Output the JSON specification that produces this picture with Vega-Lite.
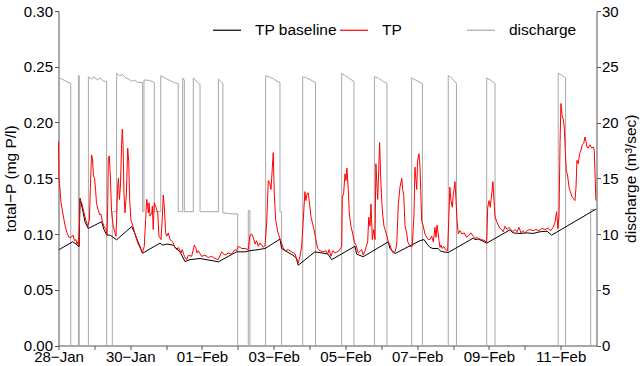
{
  "$schema": "https://vega.github.io/schema/vega-lite/v6.json",
  "width": 538,
  "height": 334.5,
  "autosize": "none",
  "padding": {"left": 58.5, "top": 11, "right": 43.5, "bottom": 20.5},
  "config": {
    "view": {"stroke": null},
    "font": "Liberation Sans",
    "axis": {"grid": false, "domainColor": "#555555", "tickColor": "#555555", "labelColor": "black", "titleColor": "black", "labelFontSize": 15, "titleFontSize": 15.5, "titleFontWeight": "normal", "tickSize": 4, "labelPadding": 2}
  },
  "datasets": {
    "tp": [
      {"h":0,"v":0.183},{"h":0.3,"v":0.150},{"h":1.0,"v":0.140},{"h":1.7,"v":0.128},{"h":3.0,"v":0.118},{"h":4.3,"v":0.108},{"h":5.7,"v":0.101},{"h":7.0,"v":0.097},{"h":8.4,"v":0.097},{"h":9.7,"v":0.099},{"h":10.7,"v":0.094},{"h":11.7,"v":0.095},{"h":12.4,"v":0.091},{"h":13.0,"v":0.093},{"h":13.7,"v":0.089},{"h":14.4,"v":0.131},{"h":15.7,"v":0.127},{"h":17.1,"v":0.119},{"h":18.4,"v":0.112},{"h":19.7,"v":0.107},{"h":20.7,"v":0.113},{"h":21.4,"v":0.145},{"h":22.1,"v":0.171},{"h":22.7,"v":0.168},{"h":23.4,"v":0.152},{"h":24.1,"v":0.150},{"h":24.8,"v":0.140},{"h":25.4,"v":0.128},{"h":26.4,"v":0.122},{"h":27.8,"v":0.117},{"h":28.4,"v":0.118},{"h":29.4,"v":0.111},{"h":30.4,"v":0.107},{"h":31.8,"v":0.104},{"h":32.5,"v":0.099},{"h":33.0,"v":0.130},{"h":33.3,"v":0.168},{"h":34.0,"v":0.170},{"h":34.7,"v":0.152},{"h":35.5,"v":0.120},{"h":36.5,"v":0.108},{"h":37.8,"v":0.101},{"h":38.5,"v":0.098},{"h":39.5,"v":0.140},{"h":40.1,"v":0.150},{"h":40.8,"v":0.131},{"h":41.5,"v":0.145},{"h":42.2,"v":0.180},{"h":42.7,"v":0.194},{"h":43.2,"v":0.180},{"h":43.8,"v":0.137},{"h":44.5,"v":0.119},{"h":45.4,"v":0.135},{"h":46.3,"v":0.177},{"h":47.0,"v":0.165},{"h":47.6,"v":0.131},{"h":48.5,"v":0.112},{"h":49.4,"v":0.109},{"h":51.2,"v":0.100},{"h":53.0,"v":0.092},{"h":54.5,"v":0.088},{"h":56.1,"v":0.083},{"h":57.4,"v":0.089},{"h":58.3,"v":0.113},{"h":59.0,"v":0.131},{"h":59.7,"v":0.125},{"h":60.1,"v":0.119},{"h":60.6,"v":0.128},{"h":61.2,"v":0.116},{"h":62.4,"v":0.119},{"h":62.8,"v":0.125},{"h":63.4,"v":0.104},{"h":64.1,"v":0.128},{"h":65.0,"v":0.125},{"h":66.4,"v":0.119},{"h":67.2,"v":0.098},{"h":68.6,"v":0.095},{"h":69.5,"v":0.116},{"h":70.1,"v":0.135},{"h":70.8,"v":0.125},{"h":71.7,"v":0.101},{"h":72.4,"v":0.098},{"h":73.5,"v":0.101},{"h":74.6,"v":0.095},{"h":75.7,"v":0.094},{"h":76.8,"v":0.092},{"h":77.9,"v":0.088},{"h":79.1,"v":0.086},{"h":80.2,"v":0.088},{"h":82.0,"v":0.083},{"h":82.8,"v":0.086},{"h":84.2,"v":0.080},{"h":85.8,"v":0.077},{"h":86.9,"v":0.081},{"h":89.1,"v":0.080},{"h":90.9,"v":0.090},{"h":91.8,"v":0.088},{"h":92.7,"v":0.083},{"h":93.5,"v":0.085},{"h":95.8,"v":0.080},{"h":98.0,"v":0.081},{"h":100.2,"v":0.079},{"h":102.5,"v":0.080},{"h":104.7,"v":0.078},{"h":106.9,"v":0.077},{"h":109.2,"v":0.084},{"h":111.4,"v":0.081},{"h":113.6,"v":0.083},{"h":115.9,"v":0.082},{"h":118.1,"v":0.086},{"h":119.2,"v":0.085},{"h":120.3,"v":0.089},{"h":122.6,"v":0.087},{"h":124.8,"v":0.087},{"h":127.0,"v":0.086},{"h":128.1,"v":0.099},{"h":129.3,"v":0.100},{"h":130.3,"v":0.097},{"h":131.5,"v":0.091},{"h":132.6,"v":0.094},{"h":133.7,"v":0.089},{"h":134.8,"v":0.092},{"h":137.0,"v":0.088},{"h":138.2,"v":0.090},{"h":139.3,"v":0.110},{"h":140.4,"v":0.148},{"h":141.5,"v":0.145},{"h":142.2,"v":0.140},{"h":143.1,"v":0.160},{"h":143.7,"v":0.173},{"h":144.4,"v":0.136},{"h":145.3,"v":0.113},{"h":146.7,"v":0.102},{"h":147.7,"v":0.098},{"h":148.4,"v":0.095},{"h":150.2,"v":0.088},{"h":151.5,"v":0.085},{"h":153.6,"v":0.086},{"h":156.0,"v":0.084},{"h":158.3,"v":0.082},{"h":160.4,"v":0.074},{"h":161.6,"v":0.080},{"h":162.7,"v":0.089},{"h":163.8,"v":0.113},{"h":164.9,"v":0.138},{"h":165.6,"v":0.130},{"h":166.3,"v":0.136},{"h":167.1,"v":0.137},{"h":168.0,"v":0.127},{"h":169.0,"v":0.115},{"h":170.1,"v":0.109},{"h":171.0,"v":0.104},{"h":172.1,"v":0.096},{"h":173.4,"v":0.087},{"h":175.0,"v":0.085},{"h":177.0,"v":0.084},{"h":179.0,"v":0.085},{"h":180.1,"v":0.082},{"h":181.0,"v":0.086},{"h":182.3,"v":0.080},{"h":183.7,"v":0.085},{"h":185.0,"v":0.083},{"h":186.4,"v":0.084},{"h":187.7,"v":0.085},{"h":189.5,"v":0.089},{"h":189.9,"v":0.133},{"h":190.8,"v":0.136},{"h":191.7,"v":0.154},{"h":192.4,"v":0.148},{"h":193.0,"v":0.159},{"h":193.9,"v":0.140},{"h":194.6,"v":0.118},{"h":195.7,"v":0.107},{"h":196.9,"v":0.100},{"h":197.9,"v":0.093},{"h":199.1,"v":0.090},{"h":200.6,"v":0.083},{"h":202.9,"v":0.086},{"h":203.9,"v":0.081},{"h":205.1,"v":0.085},{"h":206.2,"v":0.090},{"h":206.9,"v":0.093},{"h":207.6,"v":0.115},{"h":208.4,"v":0.107},{"h":209.1,"v":0.127},{"h":210.0,"v":0.095},{"h":210.9,"v":0.104},{"h":211.8,"v":0.095},{"h":212.4,"v":0.163},{"h":213.1,"v":0.143},{"h":213.6,"v":0.131},{"h":214.2,"v":0.155},{"h":214.9,"v":0.182},{"h":215.6,"v":0.150},{"h":216.3,"v":0.130},{"h":216.9,"v":0.118},{"h":217.8,"v":0.107},{"h":218.5,"v":0.104},{"h":219.6,"v":0.099},{"h":220.7,"v":0.093},{"h":221.8,"v":0.090},{"h":223.0,"v":0.085},{"h":224.0,"v":0.083},{"h":225.2,"v":0.084},{"h":226.3,"v":0.090},{"h":227.4,"v":0.127},{"h":228.5,"v":0.142},{"h":229.7,"v":0.150},{"h":230.3,"v":0.140},{"h":231.0,"v":0.135},{"h":231.9,"v":0.107},{"h":233.0,"v":0.101},{"h":233.7,"v":0.093},{"h":235.2,"v":0.089},{"h":236.7,"v":0.089},{"h":237.9,"v":0.118},{"h":238.5,"v":0.160},{"h":239.7,"v":0.140},{"h":240.3,"v":0.166},{"h":241.2,"v":0.172},{"h":241.9,"v":0.160},{"h":242.6,"v":0.130},{"h":243.0,"v":0.112},{"h":244.1,"v":0.107},{"h":245.2,"v":0.100},{"h":246.4,"v":0.097},{"h":247.4,"v":0.095},{"h":248.6,"v":0.095},{"h":249.7,"v":0.098},{"h":250.8,"v":0.093},{"h":251.5,"v":0.101},{"h":251.9,"v":0.106},{"h":252.6,"v":0.097},{"h":253.3,"v":0.108},{"h":254.1,"v":0.100},{"h":254.6,"v":0.094},{"h":255.3,"v":0.088},{"h":255.9,"v":0.090},{"h":256.8,"v":0.087},{"h":257.7,"v":0.089},{"h":259.1,"v":0.086},{"h":260.4,"v":0.085},{"h":261.9,"v":0.142},{"h":262.6,"v":0.130},{"h":263.5,"v":0.124},{"h":264.2,"v":0.136},{"h":264.9,"v":0.142},{"h":265.3,"v":0.147},{"h":266.0,"v":0.130},{"h":266.7,"v":0.112},{"h":267.5,"v":0.100},{"h":268.6,"v":0.103},{"h":269.8,"v":0.100},{"h":271.5,"v":0.101},{"h":273.1,"v":0.097},{"h":274.7,"v":0.099},{"h":276.0,"v":0.101},{"h":277.5,"v":0.098},{"h":278.7,"v":0.096},{"h":279.8,"v":0.097},{"h":280.9,"v":0.096},{"h":283.2,"v":0.095},{"h":285.4,"v":0.094},{"h":286.5,"v":0.092},{"h":287.2,"v":0.124},{"h":288.1,"v":0.130},{"h":288.9,"v":0.124},{"h":289.9,"v":0.136},{"h":290.7,"v":0.147},{"h":291.4,"v":0.130},{"h":292.1,"v":0.116},{"h":293.2,"v":0.111},{"h":294.3,"v":0.108},{"h":295.4,"v":0.105},{"h":296.6,"v":0.104},{"h":297.6,"v":0.102},{"h":298.8,"v":0.107},{"h":300.2,"v":0.104},{"h":301.4,"v":0.106},{"h":302.8,"v":0.104},{"h":304.1,"v":0.102},{"h":305.5,"v":0.104},{"h":306.8,"v":0.102},{"h":308.1,"v":0.106},{"h":309.5,"v":0.101},{"h":310.8,"v":0.103},{"h":312.2,"v":0.101},{"h":313.5,"v":0.103},{"h":315.5,"v":0.104},{"h":317.5,"v":0.103},{"h":319.5,"v":0.104},{"h":321.5,"v":0.103},{"h":323.5,"v":0.105},{"h":325.5,"v":0.104},{"h":327.5,"v":0.105},{"h":329.5,"v":0.103},{"h":330.9,"v":0.106},{"h":332.2,"v":0.110},{"h":333.3,"v":0.120},{"h":334.2,"v":0.105},{"h":334.9,"v":0.115},{"h":335.6,"v":0.181},{"h":336.2,"v":0.217},{"h":337.1,"v":0.205},{"h":337.8,"v":0.203},{"h":338.4,"v":0.196},{"h":339.1,"v":0.175},{"h":339.8,"v":0.157},{"h":340.7,"v":0.152},{"h":341.6,"v":0.142},{"h":342.5,"v":0.138},{"h":343.4,"v":0.134},{"h":344.5,"v":0.132},{"h":345.6,"v":0.130},{"h":346.3,"v":0.142},{"h":346.9,"v":0.166},{"h":347.8,"v":0.163},{"h":348.7,"v":0.172},{"h":349.6,"v":0.175},{"h":350.5,"v":0.180},{"h":351.4,"v":0.181},{"h":352.3,"v":0.187},{"h":353.0,"v":0.183},{"h":353.6,"v":0.178},{"h":354.5,"v":0.177},{"h":355.6,"v":0.180},{"h":356.8,"v":0.177},{"h":357.8,"v":0.178},{"h":358.5,"v":0.175},{"h":359.1,"v":0.150},{"h":359.6,"v":0.130}
    ],
    "base": [
      {"h":0.1,"v":0.0858},{"h":9.5,"v":0.093},{"h":11.7,"v":0.091},{"h":13.7,"v":0.0886},{"h":14.4,"v":0.132},{"h":16.4,"v":0.120},{"h":17.7,"v":0.111},{"h":19.9,"v":0.105},{"h":28.9,"v":0.111},{"h":30.4,"v":0.104},{"h":32.3,"v":0.099},{"h":34.5,"v":0.099},{"h":38.9,"v":0.0948},{"h":49.0,"v":0.1067},{"h":51.2,"v":0.100},{"h":53.2,"v":0.093},{"h":56.3,"v":0.0828},{"h":67.9,"v":0.0918},{"h":69.9,"v":0.090},{"h":72.6,"v":0.091},{"h":76.6,"v":0.090},{"h":81.3,"v":0.084},{"h":84.6,"v":0.0753},{"h":88.0,"v":0.077},{"h":94.7,"v":0.078},{"h":98.7,"v":0.077},{"h":103.4,"v":0.076},{"h":106.9,"v":0.075},{"h":119.2,"v":0.084},{"h":124.8,"v":0.084},{"h":128.1,"v":0.085},{"h":133.5,"v":0.086},{"h":138.2,"v":0.087},{"h":148.2,"v":0.0954},{"h":149.3,"v":0.087},{"h":152.9,"v":0.084},{"h":156.9,"v":0.081},{"h":159.2,"v":0.078},{"h":160.4,"v":0.072},{"h":171.6,"v":0.084},{"h":176.3,"v":0.083},{"h":180.3,"v":0.082},{"h":182.8,"v":0.077},{"h":198.4,"v":0.089},{"h":199.5,"v":0.082},{"h":203.9,"v":0.0796},{"h":220.7,"v":0.093},{"h":221.8,"v":0.087},{"h":225.2,"v":0.0825},{"h":241.9,"v":0.094},{"h":244.6,"v":0.095},{"h":246.6,"v":0.091},{"h":248.6,"v":0.088},{"h":250.6,"v":0.087},{"h":254.0,"v":0.087},{"h":255.3,"v":0.085},{"h":257.3,"v":0.084},{"h":260.8,"v":0.0834},{"h":277.5,"v":0.0963},{"h":278.7,"v":0.095},{"h":280.7,"v":0.0955},{"h":283.4,"v":0.094},{"h":286.5,"v":0.0918},{"h":302.1,"v":0.1037},{"h":304.1,"v":0.101},{"h":308.8,"v":0.1005},{"h":313.5,"v":0.101},{"h":317.5,"v":0.1005},{"h":322.2,"v":0.102},{"h":326.9,"v":0.1025},{"h":330.0,"v":0.099},{"h":359.6,"v":0.1223}
    ],
    "q": [
      {"h":0,"q":24.0},{"h":2.3,"q":23.9},{"h":4.9,"q":23.7},{"h":8.2,"q":23.5},{"h":8.2,"q":0},{"h":13.3,"q":0},{"h":13.3,"q":24.2},{"h":13.9,"q":24.2},{"h":13.9,"q":0},{"h":20.0,"q":0},{"h":20.0,"q":24.1},{"h":22,"q":23.9},{"h":24,"q":24.1},{"h":26,"q":23.8},{"h":28,"q":24.0},{"h":30,"q":23.7},{"h":32.2,"q":23.7},{"h":32.2,"q":0},{"h":36.0,"q":0},{"h":36.0,"q":12},{"h":38.9,"q":12},{"h":38.9,"q":24.4},{"h":41,"q":24.2},{"h":43,"q":24.3},{"h":45,"q":24.0},{"h":47,"q":23.9},{"h":49,"q":23.7},{"h":51,"q":23.8},{"h":53,"q":23.6},{"h":56.3,"q":23.6},{"h":56.3,"q":12},{"h":57.2,"q":12},{"h":57.2,"q":23.8},{"h":60,"q":23.8},{"h":64.1,"q":23.6},{"h":64.1,"q":12},{"h":68.4,"q":12},{"h":68.4,"q":24.2},{"h":71,"q":24.0},{"h":74,"q":23.8},{"h":77,"q":23.6},{"h":80.1,"q":23.5},{"h":80.1,"q":12},{"h":83.1,"q":12},{"h":83.1,"q":24.0},{"h":84.2,"q":23.8},{"h":84.2,"q":12},{"h":90.2,"q":12},{"h":90.2,"q":24.0},{"h":94.7,"q":23.4},{"h":94.7,"q":12},{"h":107.0,"q":12},{"h":107.0,"q":23.9},{"h":110.0,"q":23.5},{"h":110.0,"q":11.9},{"h":117,"q":11.8},{"h":119.9,"q":11.8},{"h":119.9,"q":0},{"h":127.0,"q":0},{"h":127.0,"q":12.1},{"h":128.1,"q":12.1},{"h":128.1,"q":0},{"h":138.6,"q":0},{"h":138.6,"q":24.2},{"h":141,"q":24.1},{"h":144,"q":23.9},{"h":146,"q":23.7},{"h":148.2,"q":23.6},{"h":148.2,"q":12},{"h":149.3,"q":12},{"h":149.3,"q":0},{"h":163.4,"q":0},{"h":163.4,"q":24.1},{"h":166,"q":24.0},{"h":169,"q":23.8},{"h":172.0,"q":23.6},{"h":172.0,"q":0},{"h":189.5,"q":0},{"h":189.5,"q":24.4},{"h":192,"q":24.2},{"h":195,"q":23.9},{"h":197.7,"q":23.7},{"h":197.7,"q":0},{"h":211.4,"q":0},{"h":211.4,"q":24.1},{"h":214,"q":24.0},{"h":217,"q":23.7},{"h":219.8,"q":23.5},{"h":219.8,"q":0},{"h":236.3,"q":0},{"h":236.3,"q":24.0},{"h":239,"q":23.8},{"h":243.5,"q":23.5},{"h":243.5,"q":0},{"h":260.8,"q":0},{"h":260.8,"q":24.2},{"h":263,"q":24.0},{"h":266.3,"q":23.5},{"h":266.3,"q":0},{"h":286.5,"q":0},{"h":286.5,"q":24.0},{"h":289,"q":23.8},{"h":292.1,"q":23.5},{"h":292.1,"q":0},{"h":334.4,"q":0},{"h":334.4,"q":24.4},{"h":336,"q":24.3},{"h":339.3,"q":24.0},{"h":339.3,"q":0},{"h":356.1,"q":0},{"h":356.1,"q":12.2},{"h":360,"q":12.2}
    ]
  },
  "layer": [
    {
      "data": {"name": "q"},
      "mark": {"type": "line", "strokeWidth": 1},
      "encoding": {
        "x": {"field": "h", "type": "quantitative", "scale": {"domain": [0, 360], "nice": false, "zero": false}, "axis": {"title": null, "values": [0,24,48,72,96,120,144,168,192,216,240,264,288,312,336], "labelExpr": "datum.value % 48 == 0 ? timeFormat(datetime(2013, 0, 28, datum.value), '%d\u2212%b') : ''", "labelFlush": false, "labelPadding": 0}},
        "y": {"field": "q", "type": "quantitative", "scale": {"domain": [0, 30], "nice": false}, "axis": {"orient": "right", "values": [0,5,10,15,20,25,30], "title": "discharge (m³/sec)", "titleAngle": 270, "titleBaseline": "top", "titlePadding": 5, "labelPadding": 1}},
        "color": {"datum": "discharge", "scale": {"domain": ["TP baseline", "TP", "discharge"], "range": ["#000000", "#ff0000", "#a8a8a8"]}, "legend": {"orient": "none", "legendX": 153.5, "legendY": 4, "direction": "horizontal", "columns": 3, "gridAlign": "all", "columnPadding": 0, "symbolType": "stroke", "symbolSize": 784, "symbolStrokeWidth": 1.2, "labelOffset": 13, "labelFontSize": 15.5, "labelColor": "black", "title": null, "padding": 0}},
        "order": {"value": null}
      }
    },
    {
      "layer": [
        {
          "data": {"name": "base"},
          "mark": {"type": "line", "strokeWidth": 1},
          "encoding": {
            "x": {"field": "h", "type": "quantitative", "scale": {"domain": [0, 360], "nice": false, "zero": false}, "axis": {"title": null, "values": [0,24,48,72,96,120,144,168,192,216,240,264,288,312,336], "labelExpr": "datum.value % 48 == 0 ? timeFormat(datetime(2013, 0, 28, datum.value), '%d\u2212%b') : ''", "labelFlush": false, "labelPadding": 0}},
            "y": {"field": "v", "type": "quantitative", "scale": {"domain": [0, 0.3], "nice": false}, "axis": {"values": [0,0.05,0.1,0.15,0.2,0.25,0.3], "format": ".2f", "title": "total−P (mg P/l)", "titlePadding": 5}},
            "color": {"datum": "TP baseline", "scale": {"domain": ["TP baseline", "TP", "discharge"], "range": ["#000000", "#ff0000", "#a8a8a8"]}},
            "order": {"value": null}
          }
        },
        {
          "data": {"name": "tp"},
          "mark": {"type": "line", "strokeWidth": 1},
          "encoding": {
            "x": {"field": "h", "type": "quantitative", "scale": {"domain": [0, 360], "nice": false, "zero": false}, "axis": {"title": null, "values": [0,24,48,72,96,120,144,168,192,216,240,264,288,312,336], "labelExpr": "datum.value % 48 == 0 ? timeFormat(datetime(2013, 0, 28, datum.value), '%d\u2212%b') : ''", "labelFlush": false, "labelPadding": 0}},
            "y": {"field": "v", "type": "quantitative", "scale": {"domain": [0, 0.3], "nice": false}, "axis": {"values": [0,0.05,0.1,0.15,0.2,0.25,0.3], "format": ".2f", "title": "total−P (mg P/l)", "titlePadding": 5}},
            "color": {"datum": "TP", "scale": {"domain": ["TP baseline", "TP", "discharge"], "range": ["#000000", "#ff0000", "#a8a8a8"]}},
            "order": {"value": null}
          }
        }
      ]
    }
  ],
  "resolve": {"scale": {"y": "independent"}}
}
